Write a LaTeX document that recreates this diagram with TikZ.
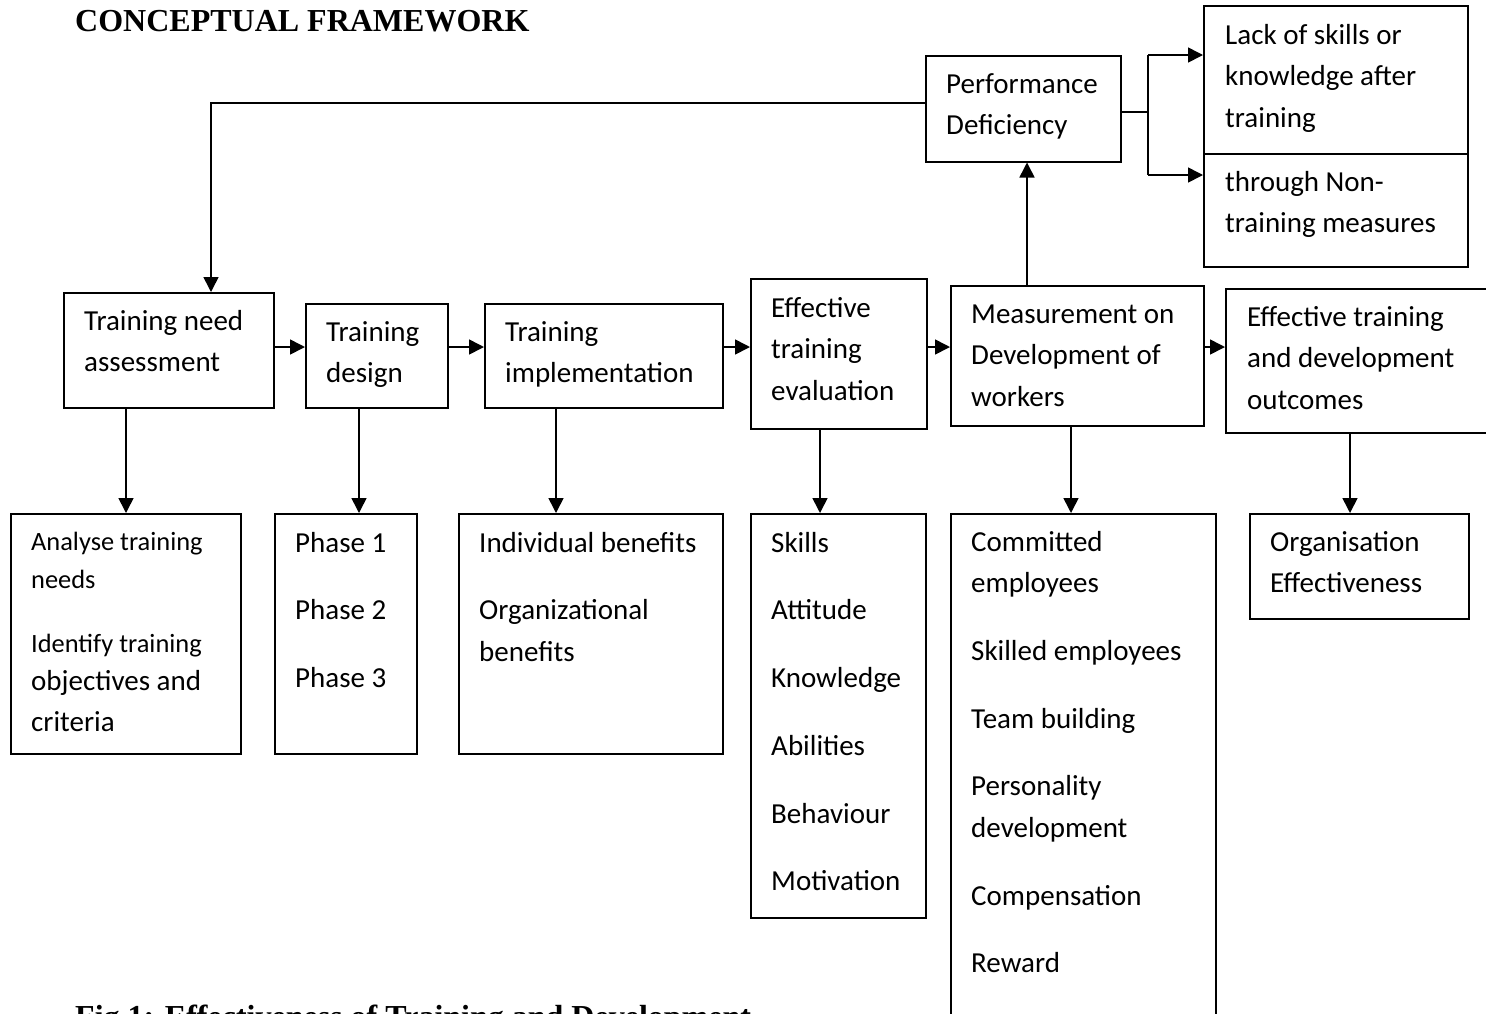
\documentclass[tikz,border=0pt]{standalone}
\usepackage{fontspec}
\newfontfamily\calib{Carlito}
\newfontfamily\tnr{Liberation Serif}
\usetikzlibrary{arrows.meta}

% rectangular frame given by its top-left and bottom-right corners
\newcommand\bx[5]{\node[box, anchor=north west,
  minimum width={(#4-#2)*1pt}, minimum height={(#5-#3)*1pt}] (#1) at (#2,#3) {};}

\begin{document}
\begin{tikzpicture}[x=1pt, y=-1pt,
  box/.style={draw, line width=1.5pt, inner sep=0pt, rectangle},
  arr/.style={line width=1.6pt, -{Triangle[length=15pt,width=15pt]}},
  link/.style={line width=1.6pt},
  txt/.style={anchor=north west, yshift=29.05pt, inner sep=0pt, align=left,
    font=\calib\fontsize{29}{41.5}\selectfont},
  small/.style={anchor=north west, yshift=26.6pt, inner sep=0pt, align=left,
    font=\calib\fontsize{26.4}{38}\selectfont},
  head/.style={anchor=base west, inner sep=0pt,
    font=\tnr\bfseries\fontsize{32}{38}\selectfont}]

\useasboundingbox (0,0) rectangle (1486,1013);
\clip (0,0) rectangle (1486,1013);

\node[head] (title) at (75,31) {CONCEPTUAL FRAMEWORK};
\node[head] (caption) at (75,1027) {Fig 1: Effectiveness of Training and Development};

% main chain
\bx{need}{63}{292}{273}{407}
\bx{design}{305}{303}{447}{407}
\bx{impl}{484}{303}{722}{407}
\bx{eval}{750}{278}{926}{428}
\bx{meas}{950}{285}{1203}{425}
\bx{outc}{1225}{288}{1500}{432}

% feedback part
\bx{perf}{925}{55}{1120}{161}
\bx{lack}{1203}{5}{1467}{153}
\bx{nontr}{1203}{153}{1467}{266}

% detail boxes
\bx{b1}{10}{513}{240}{753}
\bx{b2}{274}{513}{416}{753}
\bx{b3}{458}{513}{722}{753}
\bx{b4}{750}{513}{925}{917}
\bx{b5}{950}{513}{1215}{1040}
\bx{b6}{1249}{513}{1468}{618}

% texts
\node[txt] (t-need) at (84,330) {\strut Training need\\assessment};
\node[txt] (t-design) at (326,341) {\strut Training\\design};
\node[txt] (t-impl) at (505,341) {\strut Training\\implementation};
\node[txt] (t-eval) at (771,317) {\strut Effective\\training\\evaluation};
\node[txt] (t-meas) at (971,323) {\strut Measurement on\\Development of\\workers};
\node[txt] (t-outc) at (1247,326) {\strut Effective training\\and development\\outcomes};
\node[txt] (t-perf) at (946,93) {\strut Performance\\Deficiency};
\node[txt] (t-lack) at (1225,44) {\strut Lack of skills or\\knowledge after\\training};
\node[txt] (t-nontr) at (1225,191) {\strut through Non-\\training measures};

\node[small] (t-b1a) at (31,550) {\strut Analyse training\\needs};
\node[small] (t-b1b) at (31,652) {\strut Identify training};
\node[txt] (t-b1c) at (31,690) {\strut objectives and\\criteria};
\node[txt] (t-b2) at (295,552) {\strut Phase 1\\[26.2pt]Phase 2\\[26.2pt]Phase 3};
\node[txt] (t-b3) at (479,552) {\strut Individual benefits\\[26.2pt]Organizational\\benefits};
\node[txt] (t-b4) at (771,552) {\strut Skills\\[26.2pt]Attitude\\[26.2pt]Knowledge\\[26.2pt]Abilities\\[26.2pt]Behaviour\\[26.2pt]Motivation};
\node[txt] (t-b5) at (971,551) {\strut Committed\\employees\\[26.2pt]Skilled employees\\[26.2pt]Team building\\[26.2pt]Personality\\development\\[26.2pt]Compensation\\[26.2pt]Reward};
\node[txt] (t-b6) at (1270,551) {\strut Organisation\\Effectiveness};

% vertical guide lines for the connectors
\coordinate (xa) at (126,0);
\coordinate (xb) at (359,0);
\coordinate (xc) at (556,0);
\coordinate (xd) at (820,0);
\coordinate (xe) at (1071,0);
\coordinate (xf) at (1350,0);
\coordinate (xm) at (1027,0);
\coordinate (xn) at (211,0);
\coordinate (yc) at (0,347);
\coordinate (yf) at (0,103);

% chain arrows
\draw[arr] (need.east |- yc) -- (design.west |- yc);
\draw[arr] (design.east |- yc) -- (impl.west |- yc);
\draw[arr] (impl.east |- yc) -- (eval.west |- yc);
\draw[arr] (eval.east |- yc) -- (meas.west |- yc);
\draw[arr] (meas.east |- yc) -- (outc.west |- yc);

% down arrows
\draw[arr] (need.south -| xa) -- (b1.north -| xa);
\draw[arr] (design.south -| xb) -- (b2.north -| xb);
\draw[arr] (impl.south -| xc) -- (b3.north -| xc);
\draw[arr] (eval.south -| xd) -- (b4.north -| xd);
\draw[arr] (meas.south -| xe) -- (b5.north -| xe);
\draw[arr] (outc.south -| xf) -- (b6.north -| xf);

% feedback loop
\draw[arr] (meas.north -| xm) -- (perf.south -| xm);
\draw[arr] (perf.west |- yf) -| (need.north -| xn);

% branch to the two deficiency causes
\coordinate (br) at (1148,112);
\coordinate (lackin) at (1203,55);
\coordinate (nontrin) at (1203,175);
\draw[link] (perf.east |- br) -- (br);
\draw[link] (br |- lackin) -- (br |- nontrin);
\draw[arr] (br |- lackin) -- (lackin);
\draw[arr] (br |- nontrin) -- (nontrin);
\end{tikzpicture}
\end{document}
